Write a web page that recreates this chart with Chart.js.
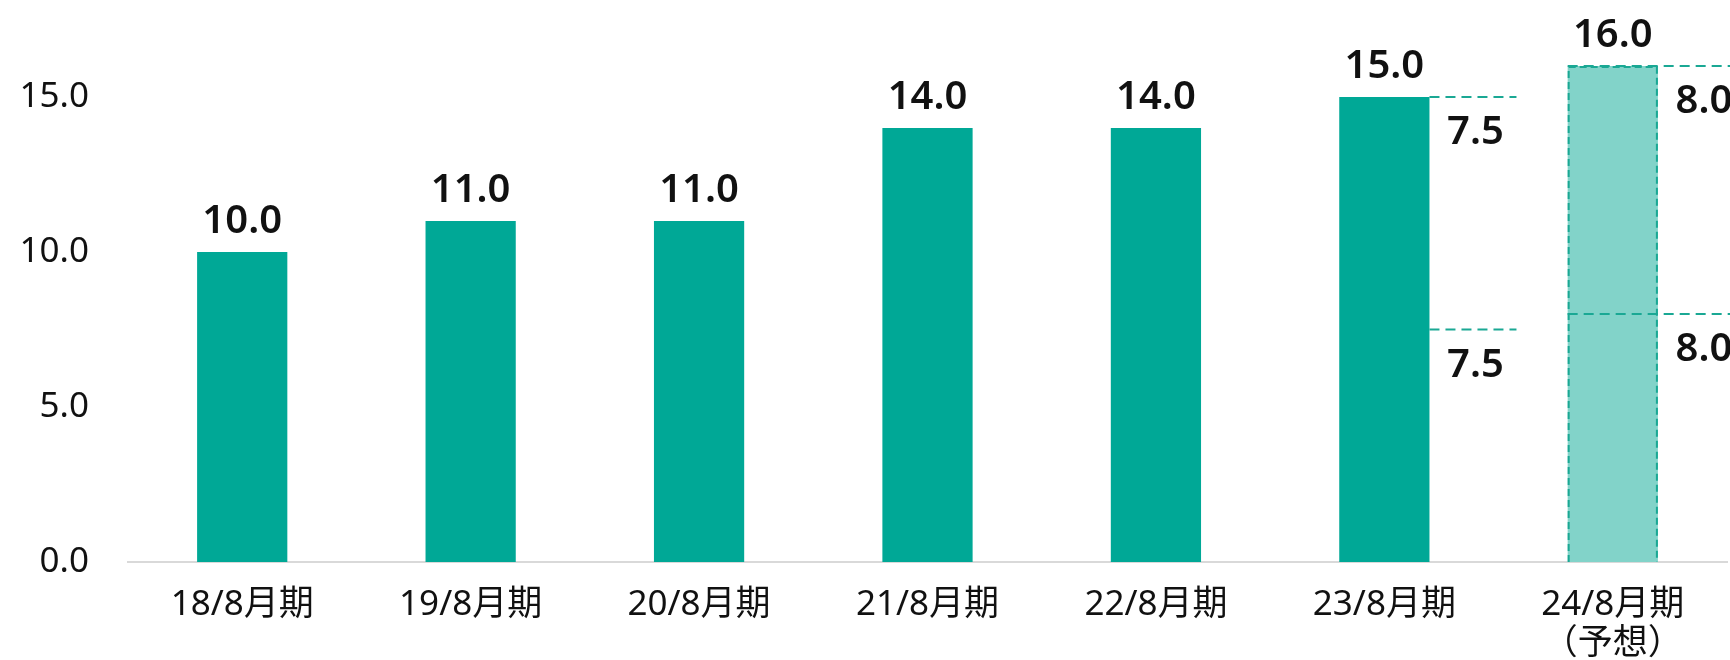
<!DOCTYPE html>
<html>
<head>
<meta charset="utf-8">
<script src="https://cdn.jsdelivr.net/npm/chart.js@4.4.1/dist/chart.umd.min.js"></script>
<style>
    html, body { margin: 0; padding: 0; background: #fff; }
    #wrap { width: 1730px; height: 660px; }
</style>
</head>
<body>
<div id="wrap"><canvas id="myChart" width="1730" height="660"></canvas></div>
<script>
// 配当データ（年間・中間・期末）
const categories = ['18/8月期', '19/8月期', '20/8月期', '21/8月期', '22/8月期', '23/8月期', ['24/8月期', '（予想）']];
const totals = [10.0, 11.0, 11.0, 14.0, 14.0, 15.0, 16.0];
const interim = [null, null, null, null, null, 7.5, 8.0];
const yearEnd = [null, null, null, null, null, 7.5, 8.0];
const forecast = [false, false, false, false, false, false, true];
const yTicks = [0, 5, 10, 15];

const TEAL = '#00A896';
const TEAL_LIGHT = '#82D3C9';
const DASH = '#1AA894';
const FONT = "'Noto Sans', 'Noto Sans CJK JP', sans-serif";

const labelsPlugin = {
    id: 'dividendLabels',
    afterDatasetsDraw(chart) {
        const ctx = chart.ctx;
        const meta = chart.getDatasetMeta(0);
        const y = chart.scales.y;
        ctx.save();
        meta.data.forEach((bar, i) => {
            const left = bar.x - bar.width / 2;
            const right = bar.x + bar.width / 2;

            // 予想の棒は破線の枠
            if (forecast[i]) {
                ctx.strokeStyle = DASH;
                ctx.lineWidth = 2;
                ctx.setLineDash([7, 4]);
                ctx.beginPath();
                ctx.moveTo(left + 1, bar.base);
                ctx.lineTo(left + 1, bar.y + 1);
                ctx.lineTo(right - 1, bar.y + 1);
                ctx.lineTo(right - 1, bar.base);
                ctx.stroke();
            }

            // 年間配当の数値
            ctx.setLineDash([]);
            ctx.fillStyle = '#111';
            ctx.font = '600 40px ' + FONT;
            ctx.textAlign = 'center';
            ctx.textBaseline = 'alphabetic';
            ctx.fillText(totals[i].toFixed(1), bar.x, bar.y - 19);

            // 中間・期末の内訳
            if (interim[i] !== null) {
                const marks = [
                    { v: interim[i] + yearEnd[i], text: yearEnd[i].toFixed(1) },
                    { v: interim[i], text: interim[i].toFixed(1) }
                ];
                marks.forEach(m => {
                    const py = y.getPixelForValue(m.v);
                    const x0 = forecast[i] ? left : right;
                    const x1 = forecast[i] ? chart.width : right + 87;
                    ctx.strokeStyle = DASH;
                    ctx.lineWidth = 2;
                    ctx.setLineDash([10, 6]);
                    ctx.beginPath();
                    ctx.moveTo(x0, py);
                    ctx.lineTo(x1, py);
                    ctx.stroke();
                    ctx.setLineDash([]);
                    ctx.fillStyle = '#111';
                    ctx.textAlign = 'center';
                    ctx.fillText(m.text, right + 46, py + 47);
                });
            }
        });
        ctx.restore();
    }
};

const ctx = document.getElementById('myChart').getContext('2d');
new Chart(ctx, {
    type: 'bar',
    data: {
        labels: categories,
        datasets: [{
            data: totals,
            backgroundColor: totals.map((v, i) => forecast[i] ? TEAL_LIGHT : TEAL),
            borderWidth: 0,
            barPercentage: 0.395,
            categoryPercentage: 1.0
        }]
    },
    options: {
        responsive: false,
        animation: false,
        layout: { padding: { top: 4, right: 3, left: 0, bottom: 0 } },
        plugins: {
            legend: { display: false },
            tooltip: { enabled: false }
        },
        scales: {
            x: {
                grid: { display: false, drawTicks: false },
                border: { display: true, color: '#D9D9D9', width: 2 },
                ticks: {
                    color: '#111',
                    padding: 24,
                    maxRotation: 0,
                    autoSkip: false,
                    font: { family: FONT, size: 35, lineHeight: 1.1 }
                },
                afterFit(scale) {
                    scale.height = 98;
                    scale.paddingLeft = 0;
                    scale.paddingRight = 0;
                }
            },
            y: {
                min: 0,
                max: 18,
                grid: { display: false, drawTicks: false },
                border: { display: false },
                ticks: {
                    color: '#111',
                    padding: 39,
                    font: { family: FONT, size: 35 },
                    callback: v => v.toFixed(1)
                },
                afterBuildTicks(scale) {
                    scale.ticks = yTicks.map(v => ({ value: v }));
                },
                afterFit(scale) {
                    scale.width = 128;
                    scale.paddingTop = 0;
                    scale.paddingBottom = 0;
                }
            }
        }
    },
    plugins: [labelsPlugin]
});
</script>
</body>
</html>
